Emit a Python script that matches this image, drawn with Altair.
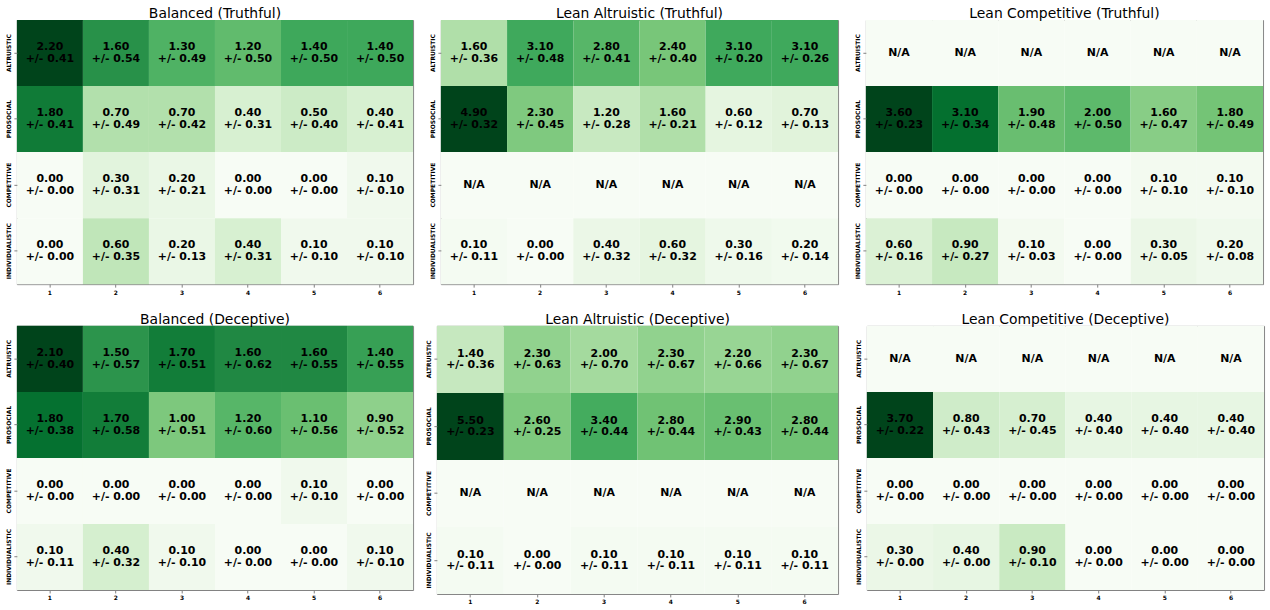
import altair as alt
import pandas as pd

# Row / column categories shared by every heatmap
CATEGORIES = ["ALTRUISTIC", "PROSOCIAL", "COMPETITIVE", "INDIVIDUALISTIC"]
ROUNDS = ["1", "2", "3", "4", "5", "6"]

# ColorBrewer "Greens" (9-class) stops
GREENS = ["#f7fcf5", "#e5f5e0", "#c7e9c0", "#a1d99b", "#74c476",
          "#41ab5d", "#238b45", "#006d2c", "#00441b"]

NA = None

# Balanced (Truthful)
BAL_T_MEAN = [[2.20, 1.60, 1.30, 1.20, 1.40, 1.40],
              [1.80, 0.70, 0.70, 0.40, 0.50, 0.40],
              [0.00, 0.30, 0.20, 0.00, 0.00, 0.10],
              [0.00, 0.60, 0.20, 0.40, 0.10, 0.10]]
BAL_T_SD = [[0.41, 0.54, 0.49, 0.50, 0.50, 0.50],
            [0.41, 0.49, 0.42, 0.31, 0.40, 0.41],
            [0.00, 0.31, 0.21, 0.00, 0.00, 0.10],
            [0.00, 0.35, 0.13, 0.31, 0.10, 0.10]]

# Lean Altruistic (Truthful)
ALT_T_MEAN = [[1.60, 3.10, 2.80, 2.40, 3.10, 3.10],
              [4.90, 2.30, 1.20, 1.60, 0.60, 0.70],
              [NA, NA, NA, NA, NA, NA],
              [0.10, 0.00, 0.40, 0.60, 0.30, 0.20]]
ALT_T_SD = [[0.36, 0.48, 0.41, 0.40, 0.20, 0.26],
            [0.32, 0.45, 0.28, 0.21, 0.12, 0.13],
            [NA, NA, NA, NA, NA, NA],
            [0.11, 0.00, 0.32, 0.32, 0.16, 0.14]]

# Lean Competitive (Truthful)
COM_T_MEAN = [[NA, NA, NA, NA, NA, NA],
              [3.60, 3.10, 1.90, 2.00, 1.60, 1.80],
              [0.00, 0.00, 0.00, 0.00, 0.10, 0.10],
              [0.60, 0.90, 0.10, 0.00, 0.30, 0.20]]
COM_T_SD = [[NA, NA, NA, NA, NA, NA],
            [0.23, 0.34, 0.48, 0.50, 0.47, 0.49],
            [0.00, 0.00, 0.00, 0.00, 0.10, 0.10],
            [0.16, 0.27, 0.03, 0.00, 0.05, 0.08]]

# Balanced (Deceptive)
BAL_D_MEAN = [[2.10, 1.50, 1.70, 1.60, 1.60, 1.40],
              [1.80, 1.70, 1.00, 1.20, 1.10, 0.90],
              [0.00, 0.00, 0.00, 0.00, 0.10, 0.00],
              [0.10, 0.40, 0.10, 0.00, 0.00, 0.10]]
BAL_D_SD = [[0.40, 0.57, 0.51, 0.62, 0.55, 0.55],
            [0.38, 0.58, 0.51, 0.60, 0.56, 0.52],
            [0.00, 0.00, 0.00, 0.00, 0.10, 0.00],
            [0.11, 0.32, 0.10, 0.00, 0.00, 0.10]]

# Lean Altruistic (Deceptive)
ALT_D_MEAN = [[1.40, 2.30, 2.00, 2.30, 2.20, 2.30],
              [5.50, 2.60, 3.40, 2.80, 2.90, 2.80],
              [NA, NA, NA, NA, NA, NA],
              [0.10, 0.00, 0.10, 0.10, 0.10, 0.10]]
ALT_D_SD = [[0.36, 0.63, 0.70, 0.67, 0.66, 0.67],
            [0.23, 0.25, 0.44, 0.44, 0.43, 0.44],
            [NA, NA, NA, NA, NA, NA],
            [0.11, 0.00, 0.11, 0.11, 0.11, 0.11]]

# Lean Competitive (Deceptive)
COM_D_MEAN = [[NA, NA, NA, NA, NA, NA],
              [3.70, 0.80, 0.70, 0.40, 0.40, 0.40],
              [0.00, 0.00, 0.00, 0.00, 0.00, 0.00],
              [0.30, 0.40, 0.90, 0.00, 0.00, 0.00]]
COM_D_SD = [[NA, NA, NA, NA, NA, NA],
            [0.22, 0.43, 0.45, 0.40, 0.40, 0.40],
            [0.00, 0.00, 0.00, 0.00, 0.00, 0.00],
            [0.00, 0.00, 0.10, 0.00, 0.00, 0.00]]

LINE_H = 11.5


def heatmap(title, means, sds, width, height):
    records = []
    for r, cat in enumerate(CATEGORIES):
        for c, rnd in enumerate(ROUNDS):
            m, s = means[r][c], sds[r][c]
            if m is None:
                label, shade, missing = "N/A", 0.0, True
            else:
                label, shade, missing = f"{m:.2f}\n+/- {s:.2f}", m, False
            records.append({"category": cat, "round": rnd, "shade": shade,
                            "label": label, "missing": missing})
    df = pd.DataFrame(records)
    vmax = max(v for row in means for v in row if v is not None)
    stops = [vmax * i / (len(GREENS) - 1) for i in range(len(GREENS))]

    base = alt.Chart(df).encode(
        x=alt.X("round:O", sort=ROUNDS, title=None,
                scale=alt.Scale(paddingInner=0, paddingOuter=0),
                axis=alt.Axis(labelAngle=0)),
        y=alt.Y("category:N", sort=CATEGORIES, title=None,
                scale=alt.Scale(paddingInner=0, paddingOuter=0),
                axis=alt.Axis(labelAngle=270)),
    )
    cells = base.mark_rect(strokeWidth=0).encode(
        color=alt.Color("shade:Q", legend=None,
                        scale=alt.Scale(domain=stops, range=GREENS,
                                        interpolate="rgb", clamp=True)),
    )
    text_style = dict(font="DejaVu Sans", fontSize=11, fontWeight="bold",
                      color="black", lineBreak="\n", lineHeight=LINE_H,
                      align="center", baseline="middle")
    # two-line "mean +/- sd" labels are lifted half a line to sit centred
    values = base.transform_filter("!datum.missing").mark_text(
        dy=-LINE_H / 2, **text_style).encode(text="label:N")
    missing = base.transform_filter("datum.missing").mark_text(
        **text_style).encode(text="label:N")
    return alt.layer(cells, values, missing).properties(
        width=width, height=height, title=title)


top = alt.hconcat(
    heatmap("Balanced (Truthful)", BAL_T_MEAN, BAL_T_SD, 399, 266),
    heatmap("Lean Altruistic (Truthful)", ALT_T_MEAN, ALT_T_SD, 400, 266),
    heatmap("Lean Competitive (Truthful)", COM_T_MEAN, COM_T_SD, 400, 266),
    spacing=15,
).resolve_scale(color="independent")

left_pair = alt.hconcat(
    heatmap("Balanced (Deceptive)", BAL_D_MEAN, BAL_D_SD, 399, 266),
    heatmap("Lean Altruistic (Deceptive)", ALT_D_MEAN, ALT_D_SD, 404, 270),
    spacing=11,
).resolve_scale(color="independent")

bottom = alt.hconcat(
    left_pair,
    heatmap("Lean Competitive (Deceptive)", COM_D_MEAN, COM_D_SD, 400, 266),
    spacing=16,
).resolve_scale(color="independent")

chart = alt.vconcat(top, bottom, spacing=16).resolve_scale(
    color="independent"
).properties(
    padding={"left": 5, "right": 5, "top": 4, "bottom": 5}
).configure_view(
    stroke="#808080", strokeWidth=1
).configure_axis(
    domain=False, grid=False, ticks=True, tickColor="#808080", tickSize=3,
    labelFont="DejaVu Sans", labelFontWeight="bold", labelFontSize=6,
    labelColor="black", labelPadding=2,
).configure_title(
    font="DejaVu Sans", fontSize=14, fontWeight="normal", color="black",
    offset=-1, anchor="middle",
)

chart.save("out.html", embed_options={"renderer": "svg", "actions": False})
